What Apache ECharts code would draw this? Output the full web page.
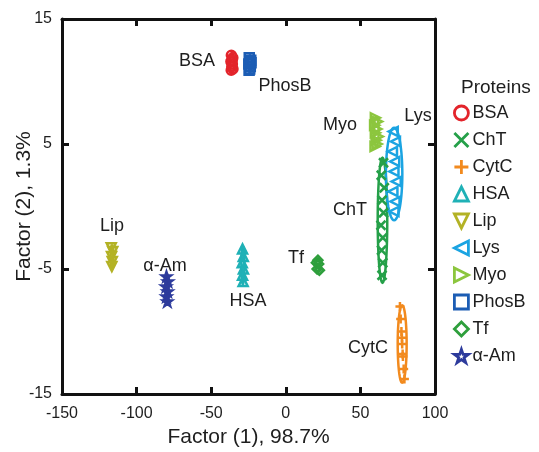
<!DOCTYPE html>
<html>
<head>
<meta charset="utf-8">
<script src="https://cdn.jsdelivr.net/npm/echarts@6/dist/echarts.min.js"></script>
<style>
  html, body { margin: 0; padding: 0; background: #fff; }
  #chart { width: 539px; height: 452px; }
</style>
</head>
<body>
<div id="chart"></div>
<script>
// Protein names, in legend order
var proteins = ['BSA', 'ChT', 'CytC', 'HSA', 'Lip', 'Lys', 'Myo', 'PhosB', 'Tf', '\u03b1-Am'];

// Replicate scores per protein: [Factor (1), Factor (2)]
var bsaPts   = [[-36.5, 12.1], [-35.5, 11.9], [-36.8, 11.6], [-35.8, 11.4], [-36.2, 11.2], [-35.4, 11.0], [-36.6, 10.9], [-35.9, 11.7]];
var chtPts   = [[65.5, 3.5], [64.0, 2.5], [66.0, 1.5], [64.5, 0.5], [65.5, -0.5], [63.8, -1.5], [65.0, -2.5], [64.2, -3.5], [65.0, -4.5], [64.5, -5.5]];
var cytcPts  = [[76.5, -8.0], [77.0, -9.0], [77.5, -10.0], [78.0, -11.0], [78.5, -12.0], [79.0, -13.0], [79.5, -13.8], [77.8, -10.5], [78.3, -11.8]];
var hsaPts   = [[-29.0, -3.4], [-28.5, -4.0], [-29.2, -4.5], [-28.4, -5.0], [-29.0, -5.5], [-28.6, -6.0]];
var lipPts   = [[-117.0, -3.3], [-116.0, -3.6], [-116.8, -4.0], [-116.3, -4.4], [-116.6, -4.8]];
var lysPts   = [[72.0, 6.0], [73.5, 5.2], [71.5, 4.4], [73.0, 3.6], [72.5, 2.8], [74.0, 2.0], [71.8, 1.2], [73.2, 0.4], [72.5, -0.4]];
var myoPts   = [[60.0, 7.1], [61.5, 6.8], [59.5, 6.5], [61.0, 6.2], [60.0, 5.9], [62.0, 5.6], [60.5, 5.3], [61.2, 5.0], [59.8, 4.8]];
var phosbPts = [[-24.5, 11.9], [-23.5, 11.7], [-24.8, 11.4], [-23.8, 11.2], [-24.2, 11.0], [-23.3, 11.5], [-24.6, 10.9]];
var tfPts    = [[20.5, -4.5], [22.0, -4.6], [21.0, -5.0], [22.5, -5.1], [21.5, -4.3]];
var amPts    = [[-80.0, -5.6], [-79.0, -6.0], [-80.3, -6.4], [-79.2, -6.8], [-80.0, -7.2], [-79.4, -7.6]];

// Confidence ellipses: [centre x, centre y, semi-axis x, semi-axis y]
var ellipses = [
  [-36.0, 11.5, 1.2, 0.8],
  [64.8, -1.1, 3.2, 5.0],
  [78.0, -11.0, 3.0, 3.1],
  [-28.8, -4.7, 1.0, 1.5],
  [-116.5, -4.0, 1.0, 0.9],
  [72.6, 2.6, 5.5, 3.7],
  [60.6, 6.0, 1.6, 1.2],
  [-24.0, 11.4, 1.1, 0.7],
  [21.5, -4.7, 1.5, 0.5],
  [-79.6, -6.6, 1.0, 1.1]
];

// Cluster captions and where they sit in data space
var captionText = ['BSA', 'PhosB', 'Myo', 'Lys', 'ChT', 'Lip', '\u03b1-Am', 'HSA', 'Tf', 'CytC'];
var captionAt = [[-59.5, 11.6], [-0.5, 9.6], [36.3, 6.5], [88.6, 7.2], [43.0, -0.3], [-116.5, -1.6], [-81.0, -4.8], [-25.3, -7.6], [6.8, -4.1], [55.1, -11.3]];

// Axis ticks
var xTicks = [-150, -100, -50, 0, 50, 100];
var yTicks = [-15, -5, 5, 15];

var allPts = [bsaPts, chtPts, cytcPts, hsaPts, lipPts, lysPts, myoPts, phosbPts, tfPts, amPts];
var colors = ['#e3242b', '#25a049', '#f28a1e', '#1fb1b6', '#b3b225', '#1ba4e2', '#8cc63e', '#1c5db4', '#2e9f3c', '#2d3b9c'];
var symbols = [
  'circle',
  'path://M0,0L10,10M10,0L0,10',
  'path://M5,0L5,10M0,5L10,5',
  'triangle',
  'path://M0,0L10,0L5,10Z',
  'path://M10,0L10,10L0,5Z',
  'path://M0,0L10,5L0,10Z',
  'rect',
  'diamond',
  'path://M5,0L6.2,3.6L10,3.6L6.9,5.9L8.1,9.5L5,7.3L1.9,9.5L3.1,5.9L0,3.6L3.8,3.6Z'
];

var font = 'Liberation Sans, Arial, Helvetica, sans-serif';
var ink = '#1e1e1e';
var chart = echarts.init(document.getElementById('chart'), null, { renderer: 'canvas' });

var series = [];

// ellipse outlines
series.push({
  type: 'custom',
  name: 'ellipse',
  silent: true,
  data: ellipses,
  renderItem: function (params, api) {
    var c = api.coord([api.value(0), api.value(1)]);
    var s = api.size([api.value(2), api.value(3)]);
    var pts = [];
    for (var k = 0; k < 64; k++) {
      var t = k / 64 * Math.PI * 2;
      pts.push([c[0] + s[0] * Math.cos(t), c[1] + s[1] * Math.sin(t)]);
    }
    return {
      type: 'polygon',
      shape: { points: pts },
      style: { fill: 'none', stroke: colors[params.dataIndex], lineWidth: 2.5 }
    };
  },
  z: 2
});

proteins.forEach(function (name, i) {
  series.push({
    type: 'scatter',
    name: name,
    data: allPts[i],
    symbol: symbols[i],
    symbolSize: 9,
    itemStyle: { color: 'rgba(255,255,255,0)', borderColor: colors[i], borderWidth: 2.5, opacity: 1 },
    emphasis: { disabled: true },
    z: 3 + i
  });
});

// captions next to each cluster
series.push({
  type: 'custom',
  name: 'captions',
  silent: true,
  data: captionAt,
  renderItem: function (params, api) {
    var c = api.coord([api.value(0), api.value(1)]);
    return {
      type: 'text',
      x: c[0], y: c[1],
      style: {
        text: captionText[params.dataIndex],
        fill: ink, fontSize: 18, fontFamily: font,
        align: 'center', verticalAlign: 'middle'
      }
    };
  },
  z: 20
});

var axisStyle = { onZero: false, lineStyle: { color: '#111', width: 3 } };
var tickStyle = { show: true, inside: true, length: 7, lineStyle: { color: '#111', width: 3 } };

chart.setOption({
  animation: false,
  backgroundColor: '#fff',
  title: {
    text: 'Proteins', left: 456, top: 73,
    textStyle: { fontSize: 19, fontWeight: 'normal', color: ink, fontFamily: font }
  },
  legend: {
    orient: 'vertical', left: 448, top: 99,
    data: proteins,
    itemWidth: 14, itemHeight: 14, itemGap: 9,
    textStyle: { fontSize: 18, color: ink, fontFamily: font, padding: [0, 0, 0, -1] },
    itemStyle: { borderWidth: 2.8 },
    selectedMode: false
  },
  grid: { left: 62, right: 104, top: 19, bottom: 58, containLabel: false, outerBoundsMode: 'none' },
  xAxis: [{
    type: 'value', min: xTicks[0], max: xTicks[xTicks.length - 1], interval: 50,
    position: 'bottom',
    axisLine: axisStyle, axisTick: tickStyle, splitLine: { show: false },
    axisLabel: { fontSize: 16, color: ink, fontFamily: font, margin: 12 },
    name: 'Factor (1), 98.7%', nameLocation: 'middle', nameGap: 33, nameMoveOverlap: false,
    nameTextStyle: { fontSize: 21, color: ink, fontFamily: font }
  }, {
    type: 'value', min: xTicks[0], max: xTicks[xTicks.length - 1], interval: 50,
    position: 'top',
    axisLine: axisStyle, axisTick: tickStyle, splitLine: { show: false },
    axisLabel: { show: false }
  }],
  yAxis: [{
    type: 'value', min: yTicks[0], max: yTicks[yTicks.length - 1], interval: 10,
    position: 'left',
    axisLine: axisStyle, axisTick: tickStyle, splitLine: { show: false },
    axisLabel: { fontSize: 16, color: ink, fontFamily: font, margin: 10 },
    name: 'Factor (2), 1.3%', nameLocation: 'middle', nameGap: 27, nameRotate: 90, nameMoveOverlap: false,
    nameTextStyle: { fontSize: 21, color: ink, fontFamily: font }
  }, {
    type: 'value', min: yTicks[0], max: yTicks[yTicks.length - 1], interval: 10,
    position: 'right',
    axisLine: axisStyle, axisTick: tickStyle, splitLine: { show: false },
    axisLabel: { show: false }
  }],
  series: series
});
</script>
</body>
</html>
